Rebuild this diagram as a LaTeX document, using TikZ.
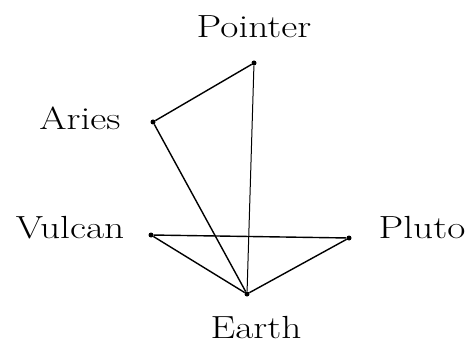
\documentclass[tikz,border=0pt]{standalone}
\usepackage{fontspec}
\begin{document}
\begin{tikzpicture}[x=1pt,y=-1pt,
  pt/.style={circle,fill=black,inner sep=0pt,minimum size=5pt},
  lbl/.style={font=\fontsize{32}{32}\selectfont\addfontfeature{FakeBold=0.8},inner sep=0pt,xscale=1.23},
  ln/.style={line width=1.4pt}]
\useasboundingbox (0,0) rectangle (470,347);
\node[pt] (P) at (254,63) {};
\node[pt] (A) at (153,122) {};
\node[pt] (V) at (151,235) {};
\node[pt] (L) at (349,238) {};
\node[pt] (E) at (247,294) {};
\node[lbl] (tP) at (254,27) {Pointer};
\node[lbl] (tA) at (80,118) {Aries};
\node[lbl] (tV) at (70,228) {Vulcan};
\node[lbl] (tL) at (422,228) {Pluto};
\node[lbl] (tE) at (256,328) {Earth};
\draw[ln] (P) -- (A);
\draw[ln] (A) -- (E);
\draw[line width=1pt] (P) -- (E);
\draw[ln] (V) -- (L);
\draw[ln] (V) -- (E);
\draw[ln] (L) -- (E);
\end{tikzpicture}
\end{document}
